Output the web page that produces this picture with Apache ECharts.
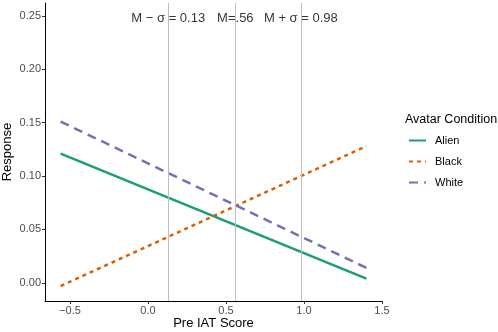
<!DOCTYPE html>
<html>
<head>
<meta charset="utf-8">
<script src="https://cdn.jsdelivr.net/npm/echarts@6/dist/echarts.min.js"></script>
<style>
  html, body { margin: 0; padding: 0; background: #fff; }
  #chart { width: 498px; height: 332px; }
</style>
</head>
<body>
<div id="chart"></div>
<script>
// fitted lines, endpoints
const xRange = [-0.56, 1.4]
const alien = [0.121, 0.004]
const black = [-0.003, 0.128]
const white = [0.151, 0.014]

const xTicks = [-0.5, 0, 0.5, 1, 1.5]
const yTicks = [0, 0.05, 0.1, 0.15, 0.2, 0.25]

// moderator lines
const markX = [0.13, 0.56, 0.98]
const markText = ['M \u2212 \u03c3 = 0.13', 'M=.56', 'M + \u03c3 = 0.98']
const markY = 0.248

const font = 'Liberation Sans, Arial, sans-serif'

const chart = echarts.init(document.getElementById('chart'))

function seg(v) {
  return [[xRange[0], v[0]], [xRange[1], v[1]]]
}

const option = {
  animation: false,
  textStyle: { fontFamily: font },
  title: {
    text: 'Avatar Condition',
    left: 400,
    top: 108,
    textStyle: { fontSize: 12.5, fontWeight: 'normal', color: '#000', fontFamily: font }
  },
  legend: {
    orient: 'vertical',
    left: 403,
    top: 130,
    itemWidth: 17,
    itemHeight: 10,
    itemGap: 10,
    data: ['Alien', 'Black', 'White'],
    itemStyle: { opacity: 0 },
    textStyle: { fontSize: 11, color: '#000', fontFamily: font, padding: [0, 0, 0, 4] }
  },
  grid: { left: 45, right: 116, top: 3, bottom: 31, outerBoundsMode: 'none' },
  xAxis: {
    type: 'value',
    min: -0.66,
    max: 1.5,
    name: 'Pre IAT Score',
    nameLocation: 'middle',
    nameGap: 16,
    nameMoveOverlap: false,
    nameTextStyle: { fontSize: 13, color: '#000', fontFamily: font },
    axisLine: { onZero: false, lineStyle: { color: '#000', width: 1 } },
    axisTick: { length: 3, customValues: xTicks, lineStyle: { color: '#333' } },
    axisLabel: {
      customValues: xTicks,
      fontSize: 11,
      color: '#4d4d4d',
      margin: 4,
      formatter: v => (v < 0 ? '\u2212' : '') + Math.abs(v).toFixed(1)
    },
    splitLine: { show: false }
  },
  yAxis: {
    type: 'value',
    min: -0.017,
    max: 0.262,
    name: 'Response',
    nameLocation: 'middle',
    nameGap: 31,
    nameMoveOverlap: false,
    nameTextStyle: { fontSize: 13, color: '#000', fontFamily: font },
    axisLine: { show: true, onZero: false, lineStyle: { color: '#000', width: 1 } },
    axisTick: { show: true, length: 3, customValues: yTicks, lineStyle: { color: '#333' } },
    axisLabel: {
      customValues: yTicks,
      fontSize: 11,
      color: '#4d4d4d',
      margin: 4,
      formatter: v => v.toFixed(2)
    },
    splitLine: { show: false }
  },
  series: [
    {
      name: 'marks',
      type: 'scatter',
      symbolSize: 0,
      silent: true,
      z: 1,
      data: markX.map((x, i) => ({ value: [x, markY], label: { formatter: markText[i] } })),
      label: {
        show: true,
        position: 'inside',
        fontSize: 13,
        color: '#000',
        fontFamily: font
      },
      markLine: {
        silent: true,
        symbol: 'none',
        label: { show: false },
        lineStyle: { color: '#bebebe', width: 1, type: 'solid' },
        data: markX.map(x => ({ xAxis: x }))
      }
    },
    {
      name: 'Alien',
      type: 'line',
      symbol: 'none',
      data: seg(alien),
      color: '#1b9e77',
      lineStyle: { width: 2.5, type: 'solid' }
    },
    {
      name: 'Black',
      type: 'line',
      symbol: 'none',
      data: seg(black),
      color: '#d95f02',
      lineStyle: { width: 2.5, type: [4, 4] }
    },
    {
      name: 'White',
      type: 'line',
      symbol: 'none',
      data: seg(white),
      color: '#7570b3',
      lineStyle: { width: 2.5, type: [9, 6] }
    }
  ]
}

chart.setOption(option)
</script>
</body>
</html>
